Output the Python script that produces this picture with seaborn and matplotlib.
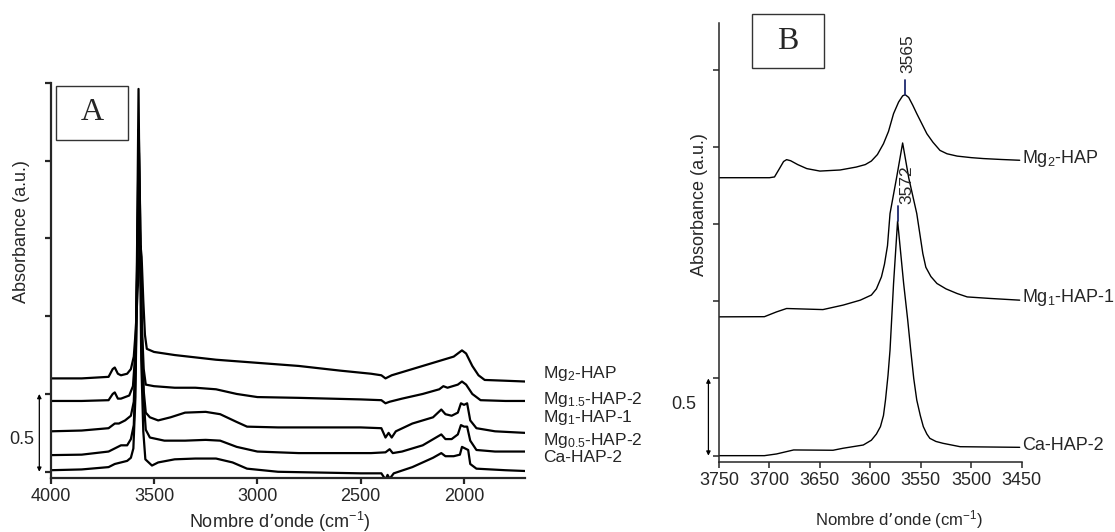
import numpy as np
import pandas as pd
import matplotlib
matplotlib.use("Agg")
import matplotlib.pyplot as plt
from matplotlib.patches import Rectangle
import matplotlib.transforms as mtransforms
import seaborn as sns

# ---- panel A: full range spectra (wavenumber, absorbance) ----
a_names = ["Mg$_2$-HAP", "Mg$_{1.5}$-HAP-2", "Mg$_1$-HAP-1", "Mg$_{0.5}$-HAP-2", "Ca-HAP-2"]

a_mg2_x = [4000, 3850, 3720, 3700, 3690, 3675, 3660, 3630, 3612, 3598, 3588, 3578, 3570, 3565,
           3560, 3552, 3544, 3535, 3500, 3400, 3200, 3000, 2800, 2600, 2450, 2400, 2380, 2350,
           2250, 2150, 2050, 2010, 1990, 1960, 1930, 1900, 1800, 1705]
a_mg2_y = [0.60, 0.60, 0.61, 0.66, 0.67, 0.63, 0.62, 0.63, 0.66, 0.74, 0.92, 1.20, 1.42, 1.45,
           1.38, 1.10, 0.88, 0.79, 0.77, 0.75, 0.72, 0.70, 0.68, 0.65, 0.63, 0.62, 0.60, 0.62,
           0.66, 0.70, 0.74, 0.78, 0.76, 0.68, 0.62, 0.59, 0.585, 0.58]

a_mg15_x = [4000, 3850, 3720, 3700, 3690, 3675, 3660, 3620, 3602, 3590, 3580, 3573, 3567, 3560,
            3550, 3540, 3500, 3400, 3300, 3200, 3100, 3000, 2800, 2500, 2400, 2380, 2360, 2300,
            2200, 2120, 2100, 2080, 2030, 2010, 1990, 1960, 1920, 1800, 1705]
a_mg15_y = [0.455, 0.455, 0.46, 0.50, 0.51, 0.47, 0.47, 0.49, 0.55, 0.78, 1.35, 1.75, 1.50, 0.98,
            0.66, 0.56, 0.55, 0.54, 0.54, 0.53, 0.50, 0.48, 0.475, 0.465, 0.46, 0.44, 0.45, 0.47,
            0.50, 0.53, 0.55, 0.54, 0.56, 0.58, 0.56, 0.50, 0.46, 0.455, 0.455]

a_mg1_x = [4000, 3850, 3720, 3690, 3670, 3640, 3612, 3598, 3588, 3580, 3573, 3567, 3560, 3550,
           3540, 3520, 3480, 3420, 3350, 3250, 3180, 3100, 3050, 2900, 2500, 2400, 2380, 2365,
           2350, 2330, 2250, 2150, 2110, 2090, 2060, 2030, 2015, 2000, 1985, 1970, 1940, 1850, 1705]
a_mg1_y = [0.26, 0.265, 0.28, 0.31, 0.31, 0.33, 0.36, 0.45, 0.78, 1.45, 2.05, 1.62, 0.92, 0.52,
           0.38, 0.35, 0.33, 0.35, 0.38, 0.385, 0.37, 0.32, 0.29, 0.285, 0.285, 0.28, 0.22, 0.25,
           0.22, 0.26, 0.31, 0.35, 0.40, 0.37, 0.36, 0.38, 0.44, 0.43, 0.44, 0.33, 0.28, 0.26, 0.25]

a_mg05_x = [4000, 3850, 3720, 3690, 3660, 3630, 3612, 3598, 3588, 3580, 3574, 3568, 3560, 3550,
            3540, 3520, 3450, 3350, 3250, 3180, 3100, 3000, 2800, 2450, 2380, 2360, 2345, 2300,
            2200, 2110, 2090, 2060, 2030, 2015, 2000, 1985, 1970, 1940, 1850, 1705]
a_mg05_y = [0.107, 0.11, 0.13, 0.15, 0.17, 0.17, 0.21, 0.30, 0.68, 1.55, 2.20, 1.72, 0.92, 0.46,
            0.27, 0.22, 0.20, 0.20, 0.205, 0.20, 0.16, 0.13, 0.12, 0.12, 0.125, 0.145, 0.12, 0.13,
            0.17, 0.24, 0.21, 0.21, 0.24, 0.30, 0.29, 0.29, 0.20, 0.14, 0.13, 0.13]

a_ca_x = [4000, 3850, 3720, 3690, 3660, 3630, 3612, 3600, 3590, 3582, 3575, 3569, 3562, 3552,
          3542, 3510, 3480, 3400, 3300, 3200, 3120, 3050, 2900, 2500, 2400, 2380, 2370, 2360,
          2340, 2250, 2150, 2110, 2090, 2050, 2020, 2010, 1995, 1980, 1970, 1940, 1800, 1705]
a_ca_y = [0.01, 0.015, 0.03, 0.05, 0.06, 0.07, 0.09, 0.15, 0.48, 1.45, 2.46, 1.62, 0.72, 0.26,
          0.08, 0.04, 0.06, 0.08, 0.085, 0.085, 0.06, 0.02, 0.0, -0.01, -0.01, -0.05, -0.02, -0.045,
          -0.01, 0.03, 0.09, 0.12, 0.10, 0.10, 0.11, 0.16, 0.15, 0.14, 0.05, 0.02, 0.01, 0.005]

a_xticks = [4000, 3500, 3000, 2500, 2000]

# ---- panel B: OH stretching region ----
b_names = ["Mg$_2$-HAP", "Mg$_1$-HAP-1", "Ca-HAP-2"]

b_mg2_x = [3750, 3700, 3695, 3690, 3686, 3683, 3679, 3672, 3663, 3650, 3630, 3614, 3605, 3599,
           3593, 3587, 3582, 3577, 3572, 3568, 3565.5, 3562, 3558, 3554, 3549, 3544, 3538, 3531,
           3524, 3514, 3500, 3488, 3470, 3452]
b_mg2_y = [1.80, 1.80, 1.805, 1.86, 1.905, 1.917, 1.91, 1.885, 1.859, 1.843, 1.85, 1.869, 1.885, 1.908,
           1.95, 2.02, 2.10, 2.215, 2.29, 2.33, 2.338, 2.32, 2.27, 2.215, 2.15, 2.085, 2.03, 1.977,
           1.955, 1.94, 1.93, 1.924, 1.918, 1.913]

b_mg1_x = [3750, 3705, 3693, 3683, 3647, 3627, 3610, 3599, 3594, 3589, 3586, 3583, 3580.5, 3574,
           3568, 3562, 3554, 3548, 3545, 3540, 3534, 3525, 3514, 3504, 3481, 3452]
b_mg1_y = [0.899, 0.90, 0.931, 0.953, 0.946, 0.975, 1.007, 1.04, 1.08, 1.158, 1.24, 1.36, 1.568, 1.80,
           2.025, 1.80, 1.568, 1.309, 1.22, 1.16, 1.115, 1.08, 1.05, 1.028, 1.018, 1.007]

b_ca_x = [3750, 3705, 3693, 3676, 3637, 3627, 3607, 3599, 3594, 3590, 3587, 3585, 3582.5, 3580.5,
          3577, 3573, 3567, 3563, 3560, 3557, 3554, 3550.5, 3547.5, 3544, 3541, 3535, 3528, 3511, 3452]
b_ca_y = [0.0, 0.0, 0.011, 0.037, 0.035, 0.048, 0.069, 0.10, 0.14, 0.188, 0.26, 0.36, 0.52, 0.684,
          1.115, 1.52, 1.115, 0.88, 0.684, 0.50, 0.36, 0.26, 0.188, 0.14, 0.112, 0.092, 0.08, 0.058, 0.054]

b_xticks = [3750, 3700, 3650, 3600, 3550, 3500, 3450]
peak_pos = [3565.5, 3573]
peak_labels = ["3565", "3572"]


def long_frame(names, xs, ys):
    rows = []
    for name, x, y in zip(names, xs, ys):
        rows.append(pd.DataFrame({"wn": x, "abs": y, "sample": name}))
    return pd.concat(rows, ignore_index=True)


sns.set_style("ticks")
plt.rcParams["font.family"] = ["Liberation Sans", "DejaVu Sans"]
plt.rcParams["mathtext.default"] = "regular"

W, H = 1115, 532
fig = plt.figure(figsize=(W / 100, H / 100), dpi=100)


def fx(px):
    return px / W


def fy(py):
    return 1 - py / H


axA = fig.add_axes([fx(50.7), fy(478), fx(525 - 50.7), (478 - 82.7) / H])
axB = fig.add_axes([fx(719), fy(462.3), fx(1021.7 - 719), (462.3 - 23.3) / H])

dfA = long_frame(a_names, [a_mg2_x, a_mg15_x, a_mg1_x, a_mg05_x, a_ca_x],
                 [a_mg2_y, a_mg15_y, a_mg1_y, a_mg05_y, a_ca_y])
dfB = long_frame(b_names, [b_mg2_x, b_mg1_x, b_ca_x], [b_mg2_y, b_mg1_y, b_ca_y])

sns.lineplot(data=dfA, x="wn", y="abs", units="sample", estimator=None, color="black",
             linewidth=1.6, sort=False, legend=False, ax=axA)
sns.lineplot(data=dfB, x="wn", y="abs", units="sample", estimator=None, color="black",
             linewidth=1.0, sort=False, legend=False, ax=axB)

# axes styling
axA.set_xlim(4000, 1705)
axA.set_ylim(-0.04, 2.5)
axB.set_xlim(3750, 3450)
axB.set_ylim(-0.043, 2.8)
for ax, lw in [(axA, 1.6), (axB, 1.1)]:
    sns.despine(ax=ax)
    ax.spines["left"].set_linewidth(lw)
    ax.spines["bottom"].set_linewidth(lw)
    ax.set_yticks(np.arange(0, 2.51, 0.5))
    ax.set_yticklabels([])
    ax.tick_params(axis="both", direction="out", length=4, width=lw, labelsize=13, pad=3)
    ax.set_xlabel("")
    ax.set_ylabel("")
axA.set_xticks(a_xticks)
axB.set_xticks(b_xticks)

# axis titles
fig.text(fx(280), fy(521.7), "Nombre d’onde (cm$^{-1}$)", ha="center", va="center", fontsize=13)
fig.text(fx(899), fy(520), "Nombre d’onde (cm$^{-1}$)", ha="center", va="center", fontsize=12)
fig.text(fx(22), fy(232), "Absorbance (a.u.)", rotation=90, ha="center", va="center", fontsize=13)
fig.text(fx(700), fy(205), "Absorbance (a.u.)", rotation=90, ha="center", va="center", fontsize=13)

# sample labels
a_label_base = [378.3, 404, 421.7, 445, 462]
for name, yb in zip(a_names, a_label_base):
    fig.text(fx(543), fy(yb), name, ha="left", va="baseline", fontsize=12.5)
b_label_base = [163.3, 301.7, 450]
for name, yb in zip(b_names, b_label_base):
    fig.text(fx(1022), fy(yb), name, ha="left", va="baseline", fontsize=13)

# scale bars (0.5 absorbance)
for ax, xf, txt_xf, txt_y, ha in [(axA, -0.024, -0.061, 0.21, "center"),
                                  (axB, -0.035, -0.075, 0.33, "right")]:
    tr = mtransforms.blended_transform_factory(ax.transAxes, ax.transData)
    ax.annotate("", xy=(xf, 0.0), xytext=(xf, 0.5), xycoords=tr, textcoords=tr,
                arrowprops=dict(arrowstyle="<|-|>", color="black", lw=0.9,
                                mutation_scale=6, shrinkA=0, shrinkB=0),
                annotation_clip=False)
    ax.text(txt_xf, txt_y, "0.5", transform=tr, ha=ha, va="center", fontsize=13, clip_on=False)

# peak markers in B
mark_tops = [2.43, 1.62]
peak_tops = [2.338, 1.52]
text_x = [3562.7, 3564]
text_y = [2.48, 1.633]
for pos, lab, top, pk, tx, ty in zip(peak_pos, peak_labels, mark_tops, peak_tops, text_x, text_y):
    axB.plot([pos, pos], [pk, top], color="#1f2a6e", lw=1.3)
    axB.text(tx, ty, lab, rotation=90, ha="center", va="bottom", fontsize=12.5)

# panel letters
for (x0, y0, x1, y1), letter in [((55.7, 85.7, 128.3, 140.3), "A"), ((751.7, 14, 824.3, 68.3), "B")]:
    fig.patches.append(Rectangle((fx(x0), fy(y1)), fx(x1 - x0), (y1 - y0) / H,
                                 transform=fig.transFigure, fill=False, edgecolor="#333333", lw=1.0))
    fig.text(fx((x0 + x1) / 2), fy((y0 + y1) / 2), letter, ha="center", va="center",
             fontsize=23, family="Liberation Serif")

fig.savefig("out.png", dpi=100)
